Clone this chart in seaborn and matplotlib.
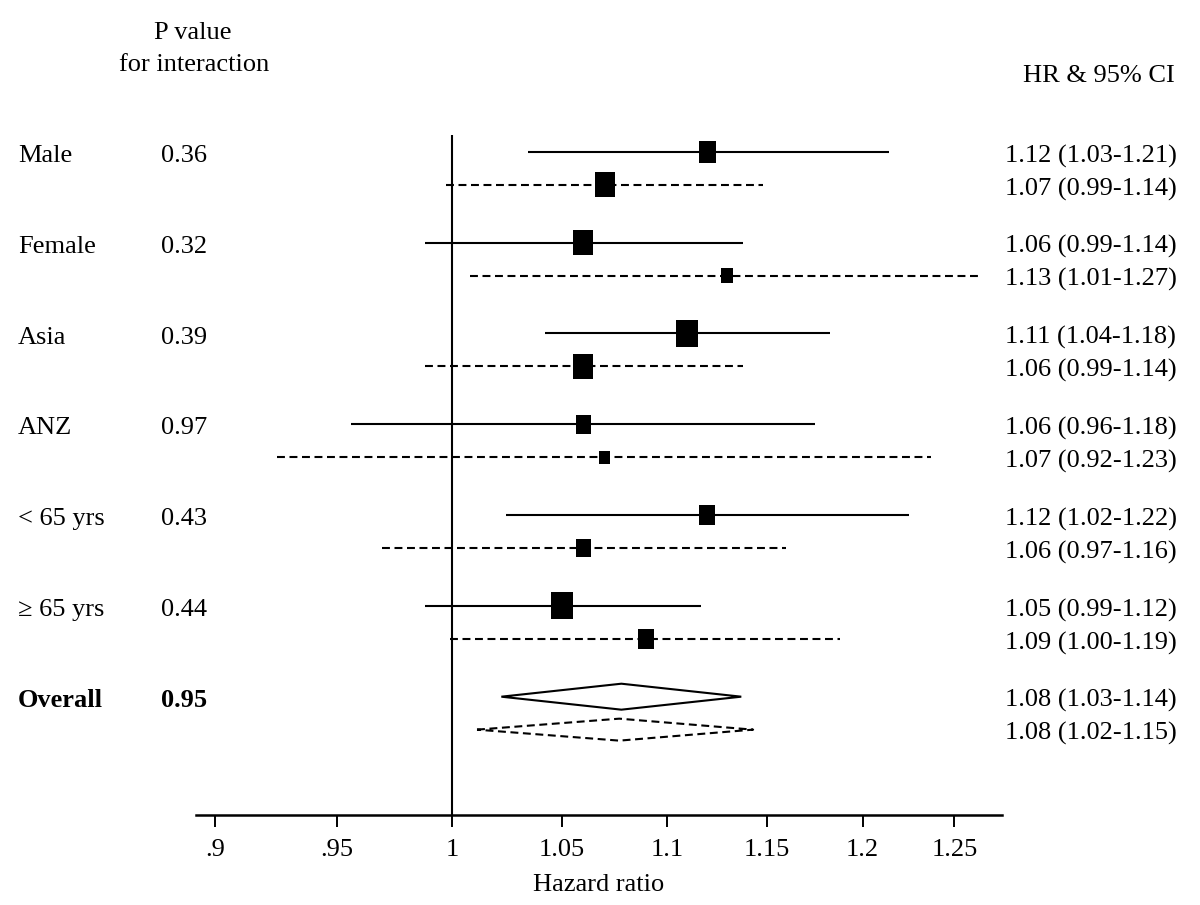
import numpy as np
import pandas as pd
import matplotlib
matplotlib.use("Agg")
import matplotlib.pyplot as plt
import matplotlib.transforms as mtransforms
from matplotlib.ticker import FixedLocator, FixedFormatter, NullLocator
import seaborn as sns

# ---------------- data ----------------
subgroups = ["Male", "Female", "Asia", "ANZ", "< 65 yrs", "\u2265 65 yrs"]
p_interaction = ["0.36", "0.32", "0.39", "0.97", "0.43", "0.44"]
overall_label = "Overall"
overall_p = "0.95"

# first (solid) estimate of each pair
hr_solid = [1.120, 1.060, 1.110, 1.060, 1.120, 1.050]
lo_solid = [1.034, 0.988, 1.042, 0.956, 1.024, 0.988]
hi_solid = [1.214, 1.138, 1.183, 1.175, 1.225, 1.117]
weight_solid = [22, 25, 27, 19, 20, 27]      # box size (weight)

# second (dashed) estimate of each pair
hr_dash = [1.070, 1.130, 1.060, 1.070, 1.060, 1.090]
lo_dash = [0.997, 1.008, 0.988, 0.925, 0.969, 0.999]
hi_dash = [1.148, 1.265, 1.138, 1.237, 1.160, 1.188]
weight_dash = [25, 15, 25, 13, 18, 20]

# overall (solid, dashed)
overall_hr = [1.078, 1.077]
overall_lo = [1.022, 1.011]
overall_hi = [1.137, 1.143]

hr_text_solid = ["1.12 (1.03-1.21)", "1.06 (0.99-1.14)", "1.11 (1.04-1.18)",
                 "1.06 (0.96-1.18)", "1.12 (1.02-1.22)", "1.05 (0.99-1.12)"]
hr_text_dash = ["1.07 (0.99-1.14)", "1.13 (1.01-1.27)", "1.06 (0.99-1.14)",
                "1.07 (0.92-1.23)", "1.06 (0.97-1.16)", "1.09 (1.00-1.19)"]
overall_text = ["1.08 (1.03-1.14)", "1.08 (1.02-1.15)"]

x_ticks = [0.9, 0.95, 1, 1.05, 1.1, 1.15, 1.2, 1.25]
x_tick_labels = [".9", ".95", "1", "1.05", "1.1", "1.15", "1.2", "1.25"]

# ---------------- style ----------------
sns.set_theme(style="white")
plt.rcParams["font.family"] = ["Liberation Serif", "DejaVu Serif"]
plt.rcParams["text.color"] = "black"
FS = 19

W, H = 1200, 905
fig = plt.figure(figsize=(W / 100, H / 100), dpi=100)
ax = fig.add_axes([196 / W, (H - 815) / H, 806 / W, 680 / H])

pair_off = 0.363
y_solid = np.arange(len(subgroups), dtype=float)
y_dash = y_solid + pair_off
y_overall = [len(subgroups), len(subgroups) + pair_off]

df_solid = pd.DataFrame({"hr": hr_solid, "lo": lo_solid, "hi": hi_solid,
                         "y": y_solid, "w": weight_solid})
df_dash = pd.DataFrame({"hr": hr_dash, "lo": lo_dash, "hi": hi_dash,
                        "y": y_dash, "w": weight_dash})

ax.set_xscale("log")
ax.set_xlim(0.8923, 1.2767)
ax.set_ylim(7.303, -0.186)

# reference line
ax.axvline(1.0, color="black", lw=1.5, zorder=1)

LW = 1.5
DASH = (3.8, 2.2)
# CI lines
for _, r in df_solid.iterrows():
    ax.plot([r.lo, r.hi], [r.y, r.y], color="black", lw=LW, solid_capstyle="butt", zorder=2)
for _, r in df_dash.iterrows():
    ax.plot([r.lo, r.hi], [r.y, r.y], color="black", lw=LW, dashes=DASH, zorder=2)

# boxes
rect = [(-0.4, -0.5), (0.4, -0.5), (0.4, 0.5), (-0.4, 0.5), (-0.4, -0.5)]
for d in (df_solid, df_dash):
    sizes = (d["w"].to_numpy() * 0.72) ** 2
    sns.scatterplot(data=d, x="hr", y="y", ax=ax, marker=rect, s=sizes,
                    color="black", edgecolor="none", linewidth=0, legend=False, zorder=3)

# overall diamonds
half_h = [0.143, 0.121]
for i in range(2):
    xs = [overall_lo[i], overall_hr[i], overall_hi[i], overall_hr[i], overall_lo[i]]
    ys = [y_overall[i], y_overall[i] - half_h[i], y_overall[i], y_overall[i] + half_h[i], y_overall[i]]
    if i == 0:
        ax.fill(xs, ys, facecolor="white", edgecolor="black", lw=LW, zorder=3)
    else:
        ax.plot(xs, ys, color="black", lw=LW, dashes=DASH, zorder=3)

# axes styling
for s in ("top", "left", "right"):
    ax.spines[s].set_visible(False)
ax.spines["bottom"].set_color("black")
ax.spines["bottom"].set_linewidth(1.8)
ax.xaxis.set_major_locator(FixedLocator(x_ticks))
ax.xaxis.set_major_formatter(FixedFormatter(x_tick_labels))
ax.xaxis.set_minor_locator(NullLocator())
ax.set_yticks([])
ax.tick_params(axis="x", which="major", direction="out", length=8.6, width=1.4,
               color="black", pad=9, labelsize=FS, labelcolor="black", bottom=True)
ax.set_xlabel("Hazard ratio", fontsize=FS, labelpad=9, color="black")
ax.set_ylabel("")
ax.set_facecolor("white")
ax.grid(False)

# text columns (slightly shifted down so the cap height centres on the row)
tr0 = mtransforms.blended_transform_factory(fig.transFigure, ax.transData)
tr = mtransforms.offset_copy(tr0, fig=fig, x=0, y=-3, units="points")
x_lab, x_p, x_hr = 18 / W, 161 / W, 1005 / W
for i, g in enumerate(subgroups):
    ax.text(x_lab, y_solid[i], g, transform=tr, ha="left", va="center", fontsize=FS)
    ax.text(x_p, y_solid[i], p_interaction[i], transform=tr, ha="left", va="center", fontsize=FS)
    ax.text(x_hr, y_solid[i], hr_text_solid[i], transform=tr, ha="left", va="center", fontsize=FS)
    ax.text(x_hr, y_dash[i], hr_text_dash[i], transform=tr, ha="left", va="center", fontsize=FS)
ax.text(x_lab, y_overall[0], overall_label, transform=tr, ha="left", va="center",
        fontsize=FS, fontweight="bold")
ax.text(x_p, y_overall[0], overall_p, transform=tr, ha="left", va="center",
        fontsize=FS, fontweight="bold")
for i in range(2):
    ax.text(x_hr, y_overall[i], overall_text[i], transform=tr, ha="left", va="center", fontsize=FS)

# headers
fig.text(193 / W, 1 - 33 / H, "P value", ha="center", va="center", fontsize=FS)
fig.text(194 / W, 1 - 65 / H, "for interaction", ha="center", va="center", fontsize=FS)
fig.text(1175 / W, 1 - 76 / H, "HR & 95% CI", ha="right", va="center", fontsize=FS)

fig.savefig("out.png", dpi=100, facecolor="white")
